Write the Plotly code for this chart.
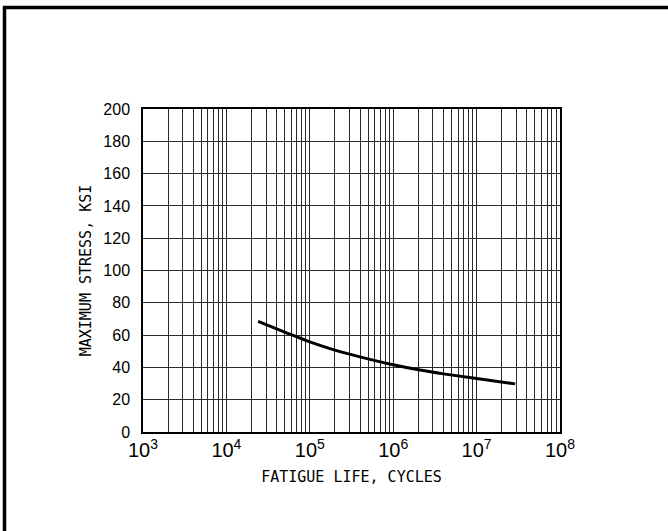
import plotly.graph_objects as go

# Data
cycles = [2.4e4, 5e4, 1e5, 2e5, 4e5, 1e6, 2e6, 4e6, 1e7, 2.9e7]
stress = [68.5, 61.9, 55.8, 50.7, 46.5, 41.6, 38.5, 36.0, 33.1, 29.8]
y_ticks = [0, 20, 40, 60, 80, 100, 120, 140, 160, 180, 200]
x_title = "FATIGUE LIFE, CYCLES"
y_title = "MAXIMUM STRESS, KSI"

W, H = 668, 531
L, R, T, B = 143, 108, 109, 99
pw, ph = W - L - R, H - T - B

fig = go.Figure()
fig.add_trace(go.Scatter(
    x=cycles, y=stress, mode="lines",
    line=dict(color="black", width=3, shape="spline", smoothing=1.0),
    hoverinfo="skip", showlegend=False,
))

grid_col = "#2a2a2a"
title_font = dict(family="DejaVu Sans Mono", size=15, color="black")
fig.update_layout(
    width=W, height=H,
    margin=dict(l=L, r=R, t=T, b=B, autoexpand=False),
    paper_bgcolor="white", plot_bgcolor="white",
    showlegend=False,
    xaxis=dict(
        type="log", range=[3, 8], dtick=1, exponentformat="power",
        showgrid=True, gridcolor=grid_col, gridwidth=1,
        minor=dict(dtick="D1", showgrid=True, gridcolor=grid_col, gridwidth=1, ticks=""),
        showline=True, linecolor="black", linewidth=1.5, mirror=True,
        ticks="", zeroline=False,
        tickfont=dict(family="Liberation Sans, Arial", size=16, color="black"),
        title=dict(text=x_title, font=title_font, standoff=12),
    ),
    yaxis=dict(
        range=[0, 200], tickvals=y_ticks,
        showgrid=True, gridcolor=grid_col, gridwidth=1.3,
        showline=True, linecolor="black", linewidth=1.5, mirror=True,
        ticks="", zeroline=False, ticklabelstandoff=8,
        tickfont=dict(family="Liberation Sans, Arial", size=16, color="black"),
        title=dict(text=y_title, font=title_font, standoff=8),
    ),
)

# page frame (left and top edges)
def px(xpix):
    return (xpix - L) / pw

def py(ypix):
    return (H - B - ypix) / ph

fig.add_shape(type="line", xref="paper", yref="paper",
              x0=px(4.5), x1=px(4.5), y0=py(6), y1=py(H + 5),
              line=dict(color="black", width=3.5), layer="above")
fig.add_shape(type="line", xref="paper", yref="paper",
              x0=px(3), x1=px(W + 5), y0=py(7.5), y1=py(7.5),
              line=dict(color="black", width=3.5), layer="above")

fig.write_html("out.html", config={"displayModeBar": False},
               post_script="document.body.style.margin='0';")
